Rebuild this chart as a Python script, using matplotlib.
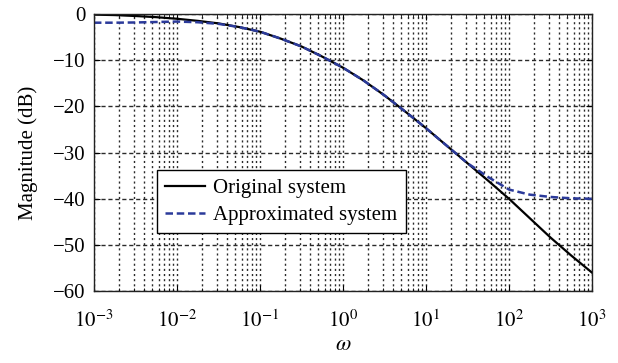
import numpy as np
import matplotlib
matplotlib.use('Agg')
from matplotlib import pyplot as plt
from matplotlib.ticker import NullFormatter

# frequency grid (log10 of omega)
log_w = [-3.0, -2.75, -2.5, -2.25, -2.0, -1.75, -1.5, -1.25, -1.0, -0.75,
         -0.5, -0.25, 0.0, 0.25, 0.5, 0.75, 1.0, 1.25, 1.5, 1.75,
         2.0, 2.25, 2.5, 2.75, 3.0]

original_db = [-0.1, -0.2, -0.4, -0.65, -1.0, -1.45, -2.0, -2.8, -3.8, -5.3,
               -7.0, -9.2, -11.6, -14.4, -17.6, -21.1, -24.7, -28.5, -32.3, -36.1,
               -40.0, -44.2, -48.4, -52.3, -56.0]

approx_db = [-1.85, -1.85, -1.8, -1.7, -1.6, -1.75, -2.1, -2.8, -3.8, -5.3,
             -7.0, -9.2, -11.6, -14.4, -17.6, -21.1, -24.7, -28.5, -32.3, -35.3,
             -38.0, -39.1, -39.6, -39.9, -40.0]

x_decades = [-3, -2, -1, 0, 1, 2, 3]
y_ticks = [-60, -50, -40, -30, -20, -10, 0]

plt.rcParams['font.family'] = ['Liberation Serif', 'DejaVu Serif']
plt.rcParams['mathtext.fontset'] = 'stix'
plt.rcParams['font.size'] = 15

w = 10.0 ** np.array(log_w)

fig = plt.figure(figsize=(6.18, 3.63), dpi=100)
ax = fig.add_axes([0.152, 0.198, 0.806, 0.763])

ax.semilogx(w, original_db, color='black', lw=1.6, label='Original system')
ax.semilogx(w, approx_db, color='#2b3a9a', lw=1.8, ls=(0, (3.0, 1.5)),
            label='Approximated system')

ax.set_xlim(1e-3, 1e3)
ax.set_ylim(-60, 0)
ax.set_yticks(y_ticks)
major = [10.0 ** d for d in x_decades]
minor = [k * 10.0 ** d for d in x_decades[:-1] for k in range(2, 10)]
ax.set_xticks(major)
ax.set_xticklabels([r'$10^{%d}$' % d for d in x_decades])
ax.set_xticks(minor, minor=True)
ax.xaxis.set_minor_formatter(NullFormatter())

# grid: dotted verticals, dashed horizontals
ax.grid(True, which='both', axis='x', color='#2a2a2a', lw=1.0, ls=(0, (1.5, 2.2)))
ax.grid(True, which='major', axis='y', color='#2a2a2a', lw=1.0, ls=(0, (3, 2)))

ax.tick_params(which='both', direction='in', top=True, right=True)
ax.tick_params(which='major', length=4)
ax.tick_params(axis='y', which='major', pad=6)
ax.tick_params(axis='x', which='major', pad=14)
ax.tick_params(which='minor', length=2)
for sp in ax.spines.values():
    sp.set_color('#222222')
    sp.set_linewidth(1.0)

ax.set_ylabel('Magnitude (dB)', fontsize=15, labelpad=11)
ax.set_xlabel(r'$\omega$', fontsize=16, labelpad=3)

leg = ax.legend(loc='lower left', bbox_to_anchor=(0.1265, 0.209), borderaxespad=0,
                fancybox=False, edgecolor='black', framealpha=1, fontsize=15,
                handlelength=1.9, handletextpad=0.4, borderpad=0.4,
                labelspacing=0.35)
leg.get_frame().set_linewidth(1.0)

fig.savefig('out.png', dpi=100)
